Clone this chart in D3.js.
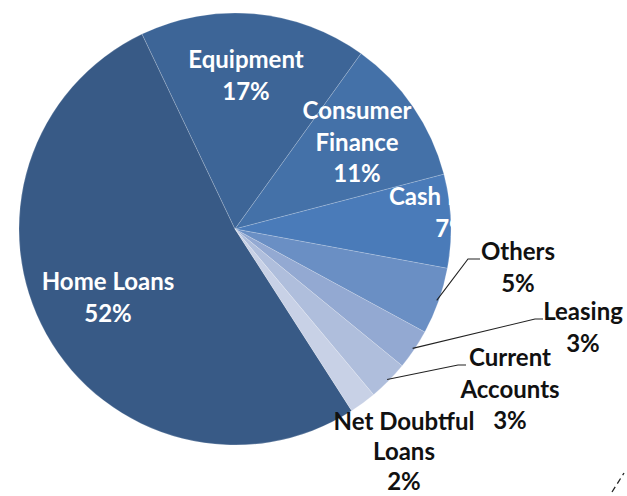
<!DOCTYPE html>
<html>
<head>
<meta charset="utf-8">
<script src="https://cdn.jsdelivr.net/npm/d3@7"></script>
<style>
  html, body { margin: 0; padding: 0; background: #ffffff; }
  svg text { font-family: Lato, "Open Sans", sans-serif; font-weight: bold; }
</style>
</head>
<body>
<svg id="chart" width="627" height="496"></svg>
<script>
// Loan portfolio breakdown (percent of total)
const categories = ["Home Loans", "Equipment", "Consumer Finance", "Cash Equity", "Others", "Leasing", "Current Accounts", "Net Doubtful Loans"];
const values = [52, 17, 11, 7, 5, 3, 3, 2];
const sliceColors = ["#385a86", "#3d6597", "#4471a8", "#4a7bb9", "#6a8fc4", "#93a9d2", "#afbedc", "#c8d1e6"];
// label lines per category (name lines followed by the percent)
const labelLines = [
  ["Home Loans"], ["Equipment"], ["Consumer", "Finance"], ["Cash Equity"],
  ["Others"], ["Leasing"], ["Current", "Accounts"], ["Net Doubtful", "Loans"]
];

const svg = d3.select("#chart");
const cx = 235, cy = 229, R = 216;
// Home Loans starts at lower right, sweeps clockwise round the left side
const startDeg = 147.3 - 360;

const data = categories.map((c, i) => ({ name: c, value: values[i], lines: labelLines[i] }));

const pie = d3.pie()
  .value(d => d.value)
  .sort(null)
  .startAngle(startDeg * Math.PI / 180)
  .endAngle((startDeg + 360) * Math.PI / 180);

const arcs = pie(data);
const arc = d3.arc().innerRadius(0).outerRadius(R);

const g = svg.append("g").attr("transform", `translate(${cx},${cy})`);

g.selectAll("path.slice")
  .data(arcs)
  .join("path")
  .attr("class", "slice")
  .attr("d", arc)
  .attr("fill", (d, i) => sliceColors[i])
  .attr("stroke", "rgba(255,255,255,0.3)")
  .attr("stroke-width", 0.6);

// label placement: inside slices for the large ones, outside with leaders for the rest
const fontSize = 24;
const inside = {
  0: { x: 108, y: 282, lh: 31.5 },
  1: { x: 246, y: 60, lh: 31.5 },
  2: { x: 357, y: 111, lh: 31.5 },
  3: { x: 452, y: 197, lh: 31.5 }
};
const outside = {
  4: { x: 518, y: 252, lh: 31.5, leader: true, hx: 480 },
  5: { x: 583, y: 312, lh: 31.5, leader: true, hx: 543 },
  6: { x: 510, y: 358, lh: 31.5, leader: true, hx: 466 },
  7: { x: 404, y: 422, lh: 30, leader: false }
};

function drawLabel(i, pos, color) {
  const d = data[i];
  const lines = d.lines.concat([d.value + "%"]);
  const t = svg.append("text")
    .attr("text-anchor", "middle")
    .attr("fill", color)
    .attr("font-size", fontSize);
  lines.forEach((ln, k) => {
    t.append("tspan")
      .attr("x", pos.x)
      .attr("y", pos.y + k * pos.lh)
      .attr("dy", "0.35em")
      .text(ln);
  });
  return t;
}

Object.entries(inside).forEach(([i, p]) => drawLabel(+i, p, "#ffffff"));

Object.entries(outside).forEach(([i, p]) => {
  i = +i;
  drawLabel(i, p, "#111111");
  if (p.leader) {
    const a = arcs[i];
    const mid = (a.startAngle + a.endAngle) / 2;
    const px = cx + Math.sin(mid) * (R - 2);
    const py = cy - Math.cos(mid) * (R - 2);
    const ly = p.y + 7;
    const kneeX = p.hx - (i === 4 ? 12 : 8);
    svg.append("polyline")
      .attr("points", `${px},${py} ${kneeX},${ly} ${p.hx},${ly}`)
      .attr("fill", "none")
      .attr("stroke", "#222222")
      .attr("stroke-width", 1.1);
  }
});

// small dashed mark in the lower right corner
svg.append("line")
  .attr("x1", 612).attr("y1", 492).attr("x2", 624).attr("y2", 473)
  .attr("stroke", "#222").attr("stroke-width", 1.3)
  .attr("stroke-dasharray", "6,4");
</script>
</body>
</html>
